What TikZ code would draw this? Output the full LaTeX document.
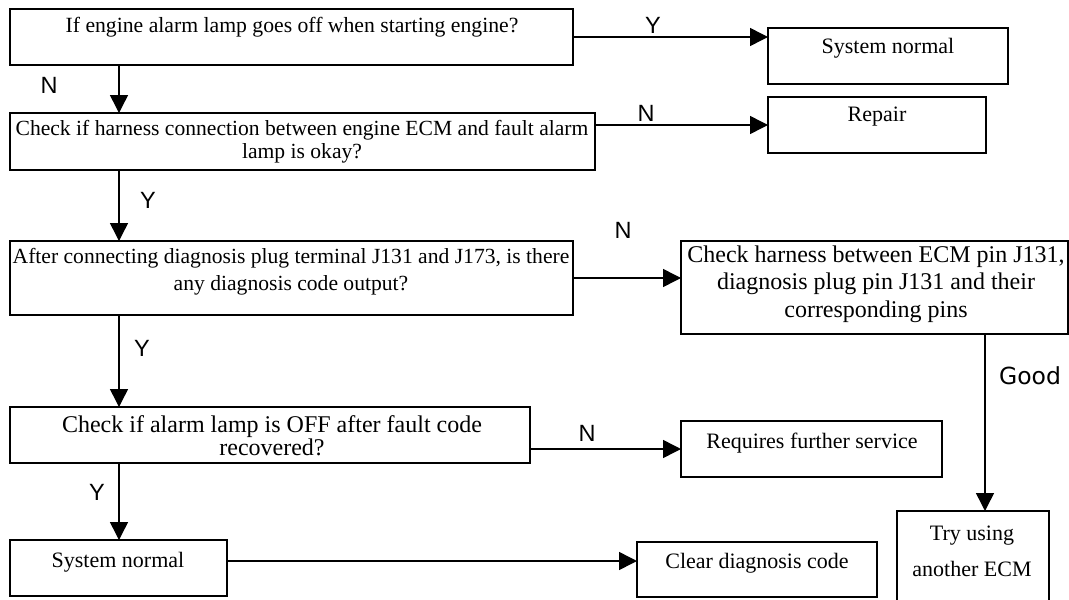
\documentclass[tikz,border=0pt]{standalone}
\usepackage{fontspec}
\setmainfont{Liberation Serif}
\newfontfamily\lsans{Liberation Sans}
\newfontfamily\dvsans{DejaVu Sans}
\usetikzlibrary{arrows.meta}
\tikzset{
  box/.style={draw, line width=1.5pt, rectangle, inner sep=0pt, outer sep=0pt},
  txt/.style={inner sep=0pt, align=center, font=\fontsize{22}{23}\selectfont},
  lbl/.style={inner sep=0pt, font=\lsans\fontsize{23.5}{25}\selectfont},
  arr/.style={line width=1.5pt, -{Triangle[length=18pt,width=18pt]}}
}
\begin{document}
\begin{tikzpicture}[x=1pt,y=-1pt]
\useasboundingbox (0,0) rectangle (1069,600);
\clip (0,0) rectangle (1069,600);
\fill[white] (0,0) rectangle (1069,600);
% boxes
\node[box, minimum width=563pt, minimum height=56pt] (b1) at (291.5,37) {};
\node[box, minimum width=240pt, minimum height=56pt] (sn1) at (888,56) {};
\node[box, minimum width=585pt, minimum height=57pt] (b2) at (302.5,141.5) {};
\node[box, minimum width=218pt, minimum height=56pt] (rep) at (877,125) {};
\node[box, minimum width=563pt, minimum height=74pt] (b3) at (291.5,278) {};
\node[box, minimum width=387pt, minimum height=93pt] (b4) at (874.5,287.5) {};
\node[box, minimum width=152pt, minimum height=90pt] (try) at (973,556) {};
\node[box, minimum width=520pt, minimum height=56pt] (b5) at (270,435) {};
\node[box, minimum width=261pt, minimum height=56pt] (req) at (811.5,449) {};
\node[box, minimum width=217pt, minimum height=56pt] (b6) at (118.5,568) {};
\node[box, minimum width=240pt, minimum height=55pt] (clr) at (757,569.5) {};
% texts
\node[txt, font=\fontsize{21.7}{23}\selectfont] (t1) at (292,27) {If engine alarm lamp goes off when starting engine?};
\node[txt] (t2) at (888,48) {System normal};
\node[txt, font=\fontsize{21.6}{23}\selectfont] (t3) at (302,141.5) {Check if harness connection between engine ECM and fault alarm\\lamp is okay?};
\node[txt] (t4) at (877,117) {Repair};
\node[txt, font=\fontsize{21.6}{27}\selectfont] (t5) at (291,271.5) {After connecting diagnosis plug terminal J131 and J173, is there\\any diagnosis code output?};
\node[txt, font=\fontsize{24}{27.5}\selectfont] (t6) at (876,284) {Check harness between ECM pin J131,\\diagnosis plug pin J131 and their\\corresponding pins};
\node[txt, font=\fontsize{24}{23}\selectfont] (t7) at (272,436) {Check if alarm lamp is OFF after fault code\\recovered?};
\node[txt] (t8) at (812,443) {Requires further service};
\node[txt] (t9) at (118,562) {System normal};
\node[txt] (t10) at (757,563) {Clear diagnosis code};
\node[txt, font=\fontsize{22}{36}\selectfont] (t11) at (972,551) {Try using\\another ECM};
% connectors
\coordinate (col) at (119,0);
\coordinate (gcol) at (985,0);
\coordinate (r6) at (0,561);
\draw[arr] (b1.east) -- (b1.east -| sn1.west);
\draw[arr] (b1.south -| col) -- (b2.north -| col);
\draw[arr] (rep.west -| b2.east) -- (rep.west);
\draw[arr] (b2.south -| col) -- (b3.north -| col);
\draw[arr] (b3.east) -- (b3.east -| b4.west);
\draw[arr] (b4.south -| gcol) -- (try.north -| gcol);
\draw[arr] (b3.south -| col) -- (b5.north -| col);
\draw[arr] (req.west -| b5.east) -- (req.west);
\draw[arr] (b5.south -| col) -- (b6.north -| col);
\draw[arr] (b6.east |- r6) -- (clr.west |- r6);
% labels
\node[lbl] (y1) at (653,25) {Y};
\node[lbl] (n1) at (49,85) {N};
\node[lbl] (n2) at (646,113) {N};
\node[lbl] (y2) at (148,200) {Y};
\node[lbl] (n3) at (623,230) {N};
\node[lbl] (y3) at (142,348) {Y};
\node[inner sep=0pt, font=\dvsans\fontsize{23.5}{25}\selectfont] (good) at (1030,376) {Good};
\node[lbl] (n5) at (587,433) {N};
\node[lbl] (y5) at (97,492) {Y};
\end{tikzpicture}
\end{document}
